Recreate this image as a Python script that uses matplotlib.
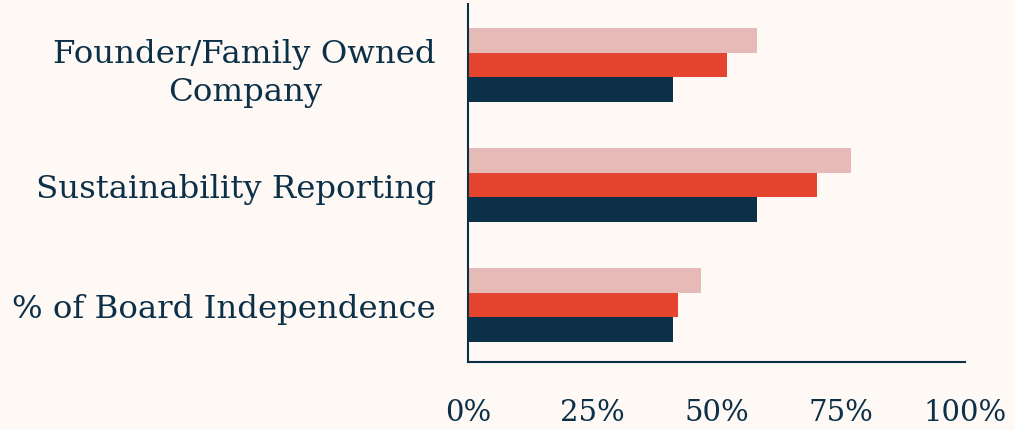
import numpy as np
import matplotlib.pyplot as plt

categories = ["% of Board Independence", "Sustainability Reporting", "Founder/Family Owned\nCompany"]
series_top = [46.9, 77.1, 58.1]     # pink
series_mid = [42.3, 70.2, 52.1]     # red
series_bottom = [41.2, 58.1, 41.2]  # navy
tick_values = [0, 25, 50, 75, 100]
tick_labels = ["0%", "25%", "50%", "75%", "100%"]

bg = "#FFF9F5"
navy = "#0B3048"

plt.rcParams["font.family"] = ["DejaVu Serif"]

fig = plt.figure(figsize=(10.14, 4.31), dpi=100, facecolor=bg)
ax = fig.add_axes([468 / 1014, 1 - 363 / 431, 497 / 1014, 358 / 431])
ax.set_facecolor(bg)

y = np.arange(len(categories))
h = 0.205
ax.barh(y + h, series_top, height=h, color="#E6BBB7")
ax.barh(y, series_mid, height=h, color="#E5452F")
ax.barh(y - h, series_bottom, height=h, color=navy)

ax.set_xlim(0, 100)
ax.set_ylim(-0.475, 2.51)
ax.set_xticks(tick_values)
ax.set_xticklabels(tick_labels, fontsize=21)
ax.set_yticks(y)
ax.set_yticklabels(categories, ha="right", multialignment="center",
                   fontsize=23.3, linespacing=1.3)

ax.tick_params(axis="both", length=0, colors=navy)
ax.tick_params(axis="x", pad=26)
ax.tick_params(axis="y", pad=23)

for s in ["top", "right"]:
    ax.spines[s].set_visible(False)
for s in ["left", "bottom"]:
    ax.spines[s].set_color(navy)
    ax.spines[s].set_linewidth(1.5)

fig.savefig("out.png", dpi=100, facecolor=bg)
